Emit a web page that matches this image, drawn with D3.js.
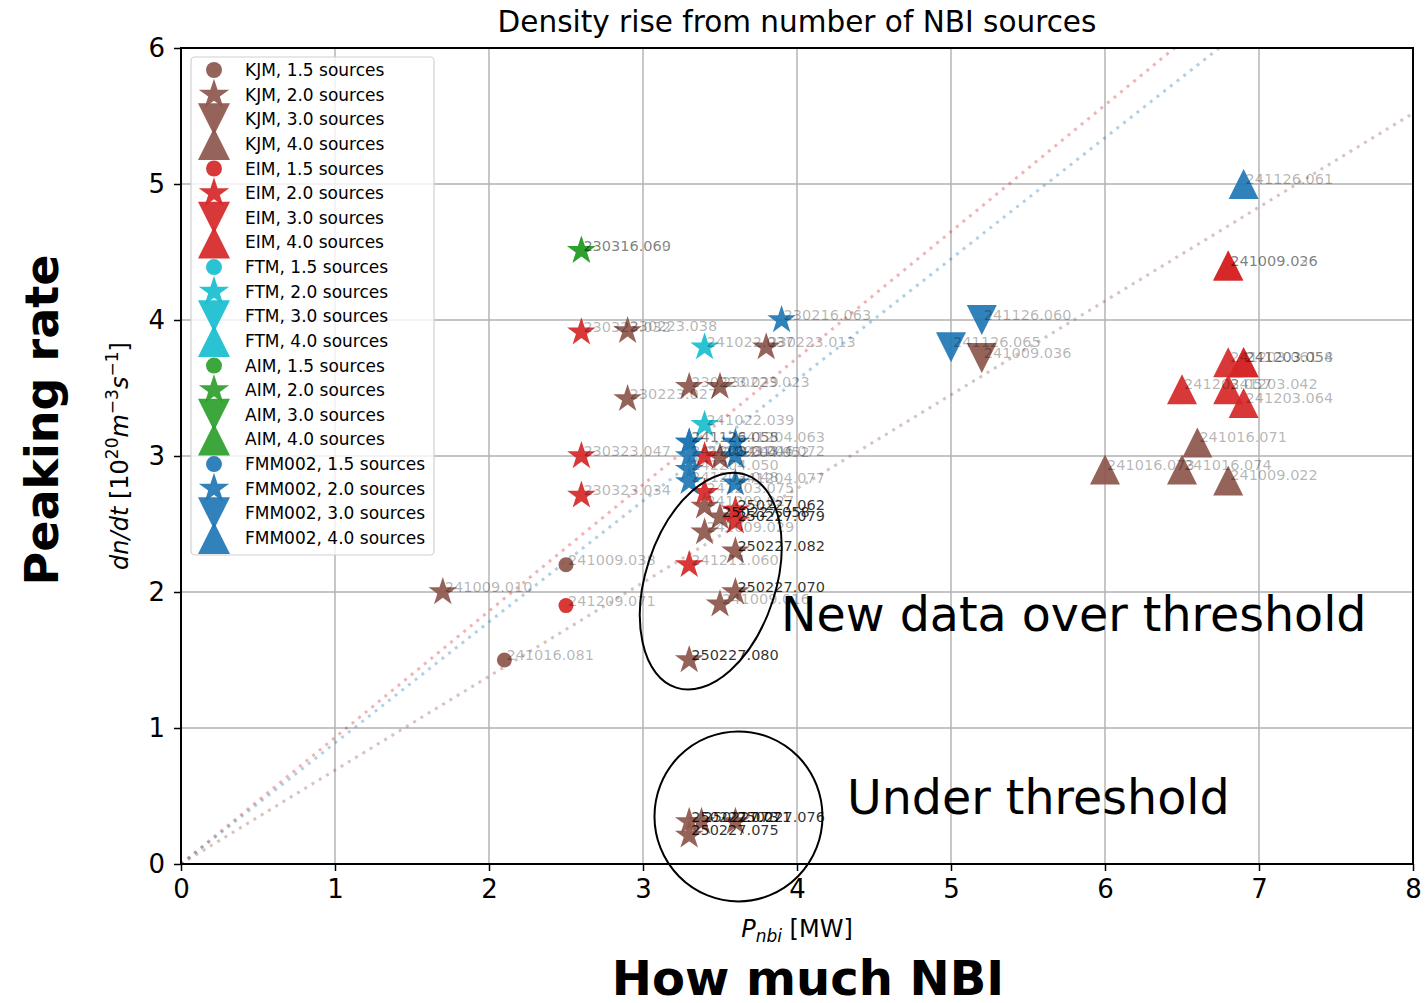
<!DOCTYPE html>
<html>
<head>
<meta charset="utf-8">
<script src="https://cdn.jsdelivr.net/npm/d3@7"></script>
<style>
  body { margin: 0; background: #fff; }
  text { font-family: "DejaVu Sans", sans-serif; }
</style>
</head>
<body>
<div id="chart"></div>
<script>
// group names and colours (matplotlib tab10)
const groups = ["KJM", "EIM", "FTM", "AIM", "FMM002"];
const groupColors = ["#8c564b", "#d62728", "#17becf", "#2ca02c", "#1f77b4"];
const sourceCounts = [1.5, 2.0, 3.0, 4.0];

// points: [P_nbi, dn/dt, sources, shot label]
const kjmPoints = [
    [2.1, 1.5, 1.5, "241016.081"],
    [2.5, 2.2, 1.5, "241009.038"],
    [1.7, 2.0, 2.0, "241009.010"],
    [2.9, 3.92, 2.0, "230223.038"],
    [2.9, 3.42, 2.0, "230223.027"],
    [3.3, 3.51, 2.0, "230223.029"],
    [3.5, 3.51, 2.0, "230223.023"],
    [3.8, 3.8, 2.0, "230223.013"],
    [3.5, 2.99, 2.0, "241204.052"],
    [3.4, 2.63, 2.0, "241209.027"],
    [3.4, 2.44, 2.0, "241009.029"],
    [3.5, 1.91, 2.0, "241009.016"],
    [5.2, 3.72, 3.0, "241009.036"],
    [6.0, 2.9, 4.0, "241016.073"],
    [6.5, 2.9, 4.0, "241016.074"],
    [6.6, 3.1, 4.0, "241016.071"],
    [6.8, 2.82, 4.0, "241009.022"]
];
const kjmNew = [
    [3.5, 2.55, 2.0, "250227.058"],
    [3.6, 2.3, 2.0, "250227.082"],
    [3.6, 2.0, 2.0, "250227.070"],
    [3.3, 1.5, 2.0, "250227.080"],
    [3.3, 0.31, 2.0, "250227.073"],
    [3.38, 0.31, 2.0, "250227.071"],
    [3.6, 0.31, 2.0, "250227.076"],
    [3.3, 0.21, 2.0, "250227.075"]
];
const eimPoints = [
    [2.5, 1.9, 1.5, "241209.071"],
    [2.6, 3.91, 2.0, "230323.032"],
    [2.6, 3.0, 2.0, "230323.047"],
    [2.6, 2.71, 2.0, "230323.034"],
    [3.4, 3.0, 2.0, "241203.046"],
    [3.4, 2.73, 2.0, "241203.075"],
    [3.3, 2.2, 2.0, "241211.060"],
    [6.8, 4.4, 4.0, "241009.026"],
    [6.8, 4.4, 4.0, "241009.036"],
    [6.8, 3.69, 4.0, "241203.061"],
    [6.9, 3.69, 4.0, "241203.058"],
    [6.9, 3.69, 4.0, "241203.054"],
    [6.5, 3.49, 4.0, "241203.057"],
    [6.8, 3.49, 4.0, "241203.042"],
    [6.9, 3.39, 4.0, "241203.064"]
];
const eimNew = [
    [3.6, 2.6, 2.0, "250227.062"],
    [3.6, 2.52, 2.0, "250227.079"]
];
const ftmPoints = [
    [3.4, 3.8, 2.0, "241022.037"],
    [3.4, 3.23, 2.0, "241022.039"]
];
const aimPoints = [
    [2.6, 4.51, 2.0, "230316.069"],
    [2.6, 4.51, 2.0, "230316.060"]
];
const fmmPoints = [
    [3.9, 4.0, 2.0, "230216.063"],
    [3.3, 3.1, 2.0, "241126.058"],
    [3.3, 3.1, 2.0, "241126.055"],
    [3.3, 3.0, 2.0, "241203.043"],
    [3.3, 2.9, 2.0, "241204.050"],
    [3.3, 2.81, 2.0, "241203.048"],
    [3.6, 3.1, 2.0, "241204.063"],
    [3.6, 3.0, 2.0, "241204.072"],
    [3.6, 2.8, 2.0, "241204.077"],
    [5.0, 3.8, 3.0, "241126.065"],
    [5.2, 4.0, 3.0, "241126.060"],
    [6.9, 5.0, 4.0, "241126.061"]
];

// slopes of the dotted guide lines (dn/dt per MW), through the origin
const guideGroups = ["EIM", "FMM002", "KJM"];
const guideSlopes = [0.93, 0.89, 0.69];

const xTicks = [0, 1, 2, 3, 4, 5, 6, 7, 8];
const yTicks = [0, 1, 2, 3, 4, 5, 6];

// annotation overlays: [x, y] centres in data units
const newDataEllipse = [3.44, 2.08];
const underEllipse = [3.62, 0.35];

// build one flat list of all points
const allPoints = [];
function addPoints(arr, group, isNew) {
    arr.forEach(p => allPoints.push({ x: p[0], y: p[1], src: p[2], label: p[3], group, isNew }));
}
addPoints(kjmPoints, "KJM", false);
addPoints(kjmNew, "KJM", true);
addPoints(eimPoints, "EIM", false);
addPoints(eimNew, "EIM", true);
addPoints(ftmPoints, "FTM", false);
addPoints(aimPoints, "AIM", false);
addPoints(fmmPoints, "FMM002", false);

const colorOf = d3.scaleOrdinal(groups, groupColors);

const W = 1425, H = 1003;
const margin = { left: 181, right: 12, top: 48, bottom: 139 };

const x = d3.scaleLinear().domain([0, 8]).range([margin.left, W - margin.right]);
const y = d3.scaleLinear().domain([0, 6]).range([H - margin.bottom, margin.top]);

const svg = d3.select("#chart").append("svg")
    .attr("width", W)
    .attr("height", H);

// marker shapes like matplotlib o, *, v, ^
function markerPath(src, r) {
    const p = d3.path();
    if (src === 1.5) {
        const rc = r * 0.5;
        p.moveTo(rc, 0);
        p.arc(0, 0, rc, 0, 2 * Math.PI);
    } else if (src === 2.0) {
        for (let i = 0; i < 10; i++) {
            const a = -Math.PI / 2 + i * Math.PI / 5;
            const rr = i % 2 === 0 ? r : r * 0.381966;
            if (i === 0) p.moveTo(rr * Math.cos(a), rr * Math.sin(a));
            else p.lineTo(rr * Math.cos(a), rr * Math.sin(a));
        }
    } else if (src === 3.0) {
        p.moveTo(0, r); p.lineTo(r, -r); p.lineTo(-r, -r);
    } else {
        p.moveTo(0, -r); p.lineTo(r, r); p.lineTo(-r, r);
    }
    p.closePath();
    return p.toString();
}

const plotW = x(8) - x(0), plotH = y(0) - y(6);

svg.append("clipPath").attr("id", "plotclip")
    .append("rect")
    .attr("x", x(0)).attr("y", y(6))
    .attr("width", plotW).attr("height", plotH);

// grid
const grid = svg.append("g");
grid.selectAll(".gx").data(xTicks).join("line")
    .attr("x1", d => x(d)).attr("x2", d => x(d))
    .attr("y1", y(0)).attr("y2", y(6))
    .attr("stroke", "#b0b0b0").attr("stroke-width", 1.4);
grid.selectAll(".gy").data(yTicks).join("line")
    .attr("x1", x(0)).attr("x2", x(8))
    .attr("y1", d => y(d)).attr("y2", d => y(d))
    .attr("stroke", "#b0b0b0").attr("stroke-width", 1.4);

// dotted guide lines
svg.append("g").attr("clip-path", "url(#plotclip)")
    .selectAll("line").data(guideSlopes).join("line")
    .attr("x1", x(0)).attr("y1", y(0))
    .attr("x2", x(8)).attr("y2", d => y(8 * d))
    .attr("stroke", (d, i) => colorOf(guideGroups[i]))
    .attr("stroke-opacity", 0.35)
    .attr("stroke-width", 3)
    .attr("stroke-dasharray", "3 5.5");

// markers
svg.append("g").selectAll("path").data(allPoints).join("path")
    .attr("d", d => markerPath(d.src, 15))
    .attr("transform", d => `translate(${x(d.x)},${y(d.y)})`)
    .attr("fill", d => colorOf(d.group))
    .attr("fill-opacity", 0.92);

// shot labels
svg.append("g").selectAll("text").data(allPoints).join("text")
    .attr("x", d => x(d.x) + 2)
    .attr("y", d => y(d.y))
    .attr("font-size", 14.5)
    .attr("fill", "#000")
    .attr("fill-opacity", d => d.isNew ? 0.82 : 0.3)
    .text(d => d.label);

// spines
svg.append("rect")
    .attr("x", x(0)).attr("y", y(6))
    .attr("width", plotW).attr("height", plotH)
    .attr("fill", "none").attr("stroke", "#000").attr("stroke-width", 2);

// axes
const xAxis = svg.append("g")
    .attr("transform", `translate(0,${y(0)})`)
    .call(d3.axisBottom(x).tickValues(xTicks).tickFormat(d3.format("d")).tickSize(7).tickPadding(9));
const yAxis = svg.append("g")
    .attr("transform", `translate(${x(0)},0)`)
    .call(d3.axisLeft(y).tickValues(yTicks).tickFormat(d3.format("d")).tickSize(7).tickPadding(9));
[xAxis, yAxis].forEach(a => {
    a.select(".domain").remove();
    a.selectAll("line").attr("stroke", "#000").attr("stroke-width", 1.5);
    a.selectAll("text").attr("font-size", 26).attr("font-family", "DejaVu Sans").attr("fill", "#000");
});

// title and axis labels
svg.append("text")
    .attr("x", (x(0) + x(8)) / 2).attr("y", 32)
    .attr("text-anchor", "middle").attr("font-size", 29.5)
    .text("Density rise from number of NBI sources");

const xl = svg.append("text")
    .attr("x", (x(0) + x(8)) / 2).attr("y", 937)
    .attr("text-anchor", "middle").attr("font-size", 24);
xl.append("tspan").attr("font-style", "italic").text("P");
xl.append("tspan").attr("font-style", "italic").attr("font-size", 17).attr("dy", 5).text("nbi");
xl.append("tspan").attr("dy", -5).text(" [MW]");

const yl = svg.append("text")
    .attr("transform", `translate(128,${(y(0) + y(6)) / 2}) rotate(-90)`)
    .attr("text-anchor", "middle").attr("font-size", 24);
yl.append("tspan").attr("font-style", "italic").text("dn/dt");
yl.append("tspan").text(" [10");
yl.append("tspan").attr("font-size", 17).attr("dy", -10).text("20");
yl.append("tspan").attr("font-style", "italic").attr("dy", 10).text("m");
yl.append("tspan").attr("font-size", 17).attr("dy", -10).text("\u22123");
yl.append("tspan").attr("font-style", "italic").attr("dy", 10).text("s");
yl.append("tspan").attr("font-size", 17).attr("dy", -10).text("\u22121");
yl.append("tspan").attr("dy", 10).text("]");

// legend
const legendItems = [];
groups.forEach(g => sourceCounts.forEach(s => legendItems.push({ group: g, src: s })));
const legend = svg.append("g");
legend.append("rect")
    .attr("x", 191).attr("y", 57).attr("width", 243).attr("height", 498)
    .attr("rx", 4)
    .attr("fill", "#fff").attr("fill-opacity", 0.8)
    .attr("stroke", "#d0d0d0").attr("stroke-width", 1.2);
const rowY = i => 70 + i * 24.63;
legend.selectAll("path").data(legendItems).join("path")
    .attr("d", d => markerPath(d.src, 16))
    .attr("transform", (d, i) => `translate(214,${rowY(i)})`)
    .attr("fill", d => colorOf(d.group))
    .attr("fill-opacity", 0.92);
legend.selectAll("text").data(legendItems).join("text")
    .attr("x", 245).attr("y", (d, i) => rowY(i) + 6)
    .attr("font-size", 17)
    .text(d => `${d.group}, ${d.src.toFixed(1)} sources`);

// hand annotations
svg.append("ellipse")
    .attr("transform", `translate(${x(newDataEllipse[0])},${y(newDataEllipse[1])}) rotate(18)`)
    .attr("rx", 65).attr("ry", 112)
    .attr("fill", "none").attr("stroke", "#000").attr("stroke-width", 2);
svg.append("ellipse")
    .attr("cx", x(underEllipse[0])).attr("cy", y(underEllipse[1]))
    .attr("rx", 84).attr("ry", 85)
    .attr("fill", "none").attr("stroke", "#000").attr("stroke-width", 2);

svg.append("text").attr("x", 781).attr("y", 631).attr("font-size", 47.5).text("New data over threshold");
svg.append("text").attr("x", 847).attr("y", 814).attr("font-size", 47.5).text("Under threshold");

svg.append("text")
    .attr("transform", "translate(58,420) rotate(-90)")
    .attr("text-anchor", "middle").attr("font-size", 46).attr("font-weight", "bold")
    .text("Peaking rate");
svg.append("text")
    .attr("x", 808).attr("y", 995)
    .attr("text-anchor", "middle").attr("font-size", 48).attr("font-weight", "bold")
    .text("How much NBI");
</script>
</body>
</html>
